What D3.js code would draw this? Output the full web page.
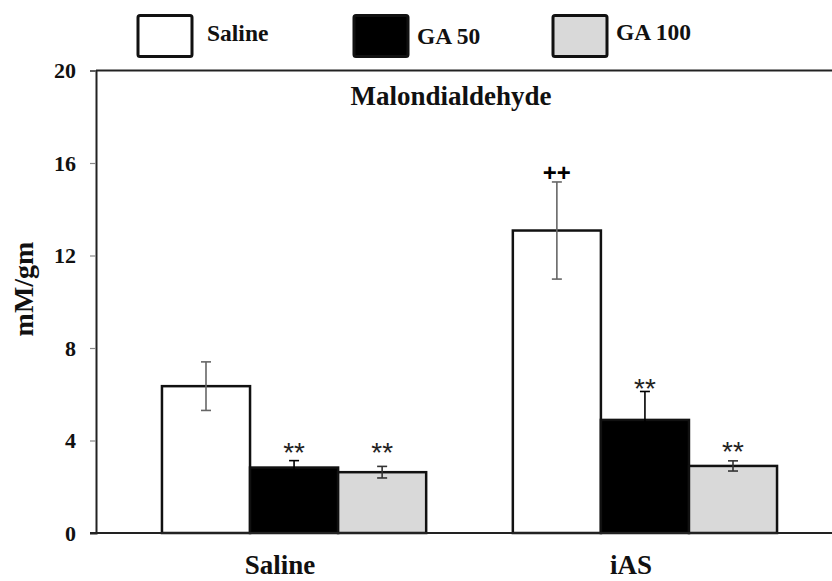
<!DOCTYPE html>
<html>
<head>
<meta charset="utf-8">
<script src="https://cdn.jsdelivr.net/npm/d3@7"></script>
<style>
  html, body { margin: 0; padding: 0; background: #fff; }
  svg { display: block; }
</style>
</head>
<body>
<svg id="chart" width="832" height="581"></svg>
<script>
// ---- data ----
const groups = ["Saline", "iAS"];
const series = ["Saline", "GA 50", "GA 100"];
const seriesColors = ["#ffffff", "#000000", "#d9d9d9"];
const errorColors = ["#666666", "#000000", "#333333"];
const salineValues = [6.35, 13.08];
const salineErrors = [1.05, 2.1];
const ga50Values = [2.83, 4.89];
const ga50Errors = [0.3, 1.23];
const ga100Values = [2.63, 2.9];
const ga100Errors = [0.25, 0.22];
const yTicks = [0, 4, 8, 12, 16, 20];
const chartTitle = "Malondialdehyde";
const yLabel = "mM/gm";
// significance marks: group, series, label, value-level where mark is centred
const markGroups = ["Saline", "Saline", "iAS", "iAS", "iAS"];
const markSeries = ["GA 50", "GA 100", "Saline", "GA 50", "GA 100"];
const markLabels = ["**", "**", "++", "**", "**"];
const markLevels = [3.74, 3.74, 15.6, 6.51, 3.78];

const valuesBySeries = [salineValues, ga50Values, ga100Values];
const errorsBySeries = [salineErrors, ga50Errors, ga100Errors];
const rows = [];
groups.forEach((g, gi) => {
  series.forEach((s, si) => {
    rows.push({ group: g, series: s, color: seriesColors[si], errColor: errorColors[si],
      value: valuesBySeries[si][gi], err: errorsBySeries[si][gi] });
  });
});

(function draw() {
const svg = d3.select("#chart");
const left = 96, bottom = 533, plotTop = 70.5, rightExt = 843;
const serif = "'Liberation Serif', 'Times New Roman', serif";
const sans = "'Liberation Sans', Arial, sans-serif";

const y = d3.scaleLinear().domain([0, 20]).range([bottom, plotTop]);
const x0 = d3.scaleBand().domain(groups).range([left, rightExt])
  .paddingInner(0.247).paddingOuter(0.188);
const x1 = d3.scaleBand().domain(series).range([0, x0.bandwidth()]).padding(0);

// frame top line
svg.append("line").attr("x1", left).attr("x2", rightExt).attr("y1", y(20)).attr("y2", y(20))
  .attr("stroke", "#222").attr("stroke-width", 2);

// bars
svg.append("g").selectAll("rect").data(rows).join("rect")
  .attr("x", d => x0(d.group) + x1(d.series))
  .attr("y", d => y(d.value))
  .attr("width", x1.bandwidth())
  .attr("height", d => y(0) - y(d.value))
  .attr("fill", d => d.color)
  .attr("stroke", "#111")
  .attr("stroke-width", 2.5);

// error bars
const eb = svg.append("g").attr("stroke-width", 1.6);
rows.forEach(d => {
  const cx = x0(d.group) + x1(d.series) + x1.bandwidth() / 2;
  const yt = y(d.value + d.err), yb = y(d.value - d.err);
  const g = eb.append("g").attr("stroke", d.errColor);
  g.append("line").attr("x1", cx).attr("x2", cx).attr("y1", yt).attr("y2", yb);
  g.append("line").attr("x1", cx - 5).attr("x2", cx + 5).attr("y1", yt).attr("y2", yt);
  g.append("line").attr("x1", cx - 5).attr("x2", cx + 5).attr("y1", yb).attr("y2", yb);
});

// y axis
const yAxis = svg.append("g").attr("transform", `translate(${left},0)`)
  .call(d3.axisLeft(y).tickValues(yTicks).tickSize(6).tickPadding(14).tickFormat(d3.format("d")));
yAxis.select(".domain").attr("stroke", "#222").attr("stroke-width", 2);
yAxis.selectAll(".tick line").attr("stroke", "#888").attr("stroke-width", 1.2);
yAxis.selectAll(".tick text").attr("font-family", serif).attr("font-weight", "bold")
  .attr("font-size", 22).attr("fill", "#111").attr("dy", "0.34em");

// bottom axis line
svg.append("line").attr("x1", left - 6).attr("x2", rightExt).attr("y1", y(0)).attr("y2", y(0))
  .attr("stroke", "#222").attr("stroke-width", 2);

// x labels
svg.append("g").selectAll("text").data(groups).join("text")
  .attr("x", d => x0(d) + x0.bandwidth() / 2 - 14)
  .attr("y", 574)
  .attr("text-anchor", "middle")
  .attr("font-family", serif).attr("font-weight", "bold").attr("font-size", 27)
  .attr("fill", "#111")
  .text(d => d);

// y label
svg.append("text")
  .attr("transform", "translate(33,289) rotate(-90)")
  .attr("text-anchor", "middle")
  .attr("font-family", serif).attr("font-weight", "bold").attr("font-size", 28)
  .attr("fill", "#111")
  .text(yLabel);

// title
svg.append("text")
  .attr("x", 451).attr("y", 105)
  .attr("text-anchor", "middle")
  .attr("font-family", serif).attr("font-weight", "bold").attr("font-size", 27)
  .attr("fill", "#111")
  .text(chartTitle);

// significance marks
markLabels.forEach((lab, i) => {
  const cx = x0(markGroups[i]) + x1(markSeries[i]) + x1.bandwidth() / 2;
  const isPlus = lab === "++";
  svg.append("text")
    .attr("x", cx)
    .attr("y", y(markLevels[i]))
    .attr("dy", isPlus ? "0.35em" : "0.55em")
    .attr("text-anchor", "middle")
    .attr("font-family", sans)
    .attr("font-weight", isPlus ? "bold" : "normal")
    .attr("font-size", isPlus ? 24 : 28)
    .attr("fill", isPlus ? "#000" : "#222")
    .text(lab);
});

// legend
const legendX = [138, 354, 553];
const legendBaseline = [41, 44, 40];
const legend = svg.append("g");
series.forEach((s, i) => {
  legend.append("rect")
    .attr("x", legendX[i]).attr("y", 15.5).attr("width", 54).attr("height", 41)
    .attr("rx", 2)
    .attr("fill", seriesColors[i]).attr("stroke", "#111").attr("stroke-width", 3);
  legend.append("text")
    .attr("x", legendX[i] + (i === 0 ? 69 : 63)).attr("y", legendBaseline[i])
    .attr("font-family", serif).attr("font-weight", "bold").attr("font-size", 23.5)
    .attr("fill", "#111")
    .text(s);
});
})();
</script>
</body>
</html>
